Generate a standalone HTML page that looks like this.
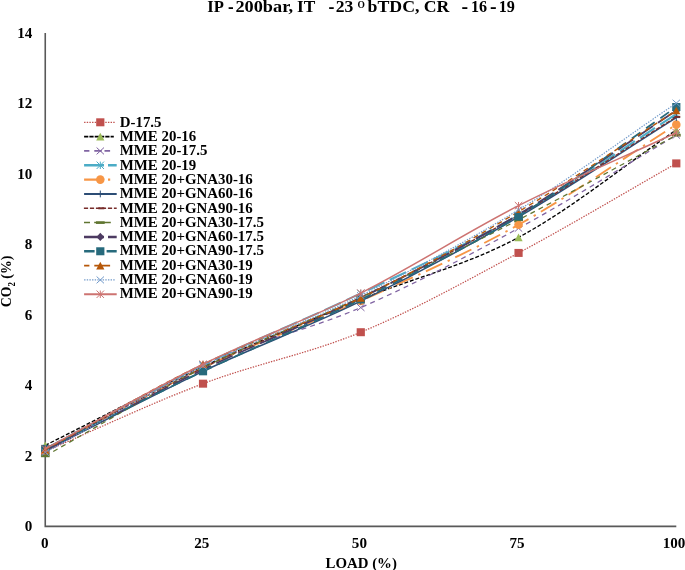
<!DOCTYPE html>
<html><head><meta charset="utf-8"><title>CO2 vs Load</title>
<style>
html,body{margin:0;padding:0;background:#fff;}
body{width:685px;height:570px;overflow:hidden;}
svg{display:block;}
text{font-family:"Liberation Serif",serif;font-weight:bold;fill:#000;}
.t{font-size:16.5px;}
.a{font-size:14.67px;}
.l{font-size:14.1px;}
</style></head><body>
<svg width="685" height="570" viewBox="0 0 685 570">
<rect width="685" height="570" fill="#fff"/>
<text class="t" x="207.2" y="12.4" textLength="16.6" lengthAdjust="spacingAndGlyphs">IP</text>
<text class="t" x="228.1" y="13.2" textLength="5.6" lengthAdjust="spacingAndGlyphs" style="font-size:22px">-</text>
<text class="t" x="235.4" y="12.4" textLength="57.8" lengthAdjust="spacingAndGlyphs">200bar,</text>
<text class="t" x="297.0" y="12.4" textLength="18.3" lengthAdjust="spacingAndGlyphs">IT</text>
<text class="t" x="328.4" y="13.2" textLength="5.9" lengthAdjust="spacingAndGlyphs" style="font-size:22px">-</text>
<text class="t" x="335.7" y="12.4" textLength="17.6" lengthAdjust="spacingAndGlyphs">23</text>
<text class="t" x="367.6" y="12.4" textLength="51.9" lengthAdjust="spacingAndGlyphs">bTDC,</text>
<text class="t" x="423.8" y="12.4" textLength="25.6" lengthAdjust="spacingAndGlyphs">CR</text>
<text class="t" x="461.5" y="13.2" textLength="6.6" lengthAdjust="spacingAndGlyphs" style="font-size:22px">-</text>
<text class="t" x="471.0" y="12.4" textLength="16.1" lengthAdjust="spacingAndGlyphs">16</text>
<text class="t" x="490.0" y="13.2" textLength="6.6" lengthAdjust="spacingAndGlyphs" style="font-size:22px">-</text>
<text class="t" x="498.7" y="12.4" textLength="16.2" lengthAdjust="spacingAndGlyphs">19</text>
<text class="t" x="357.6" y="8.0" textLength="7.4" lengthAdjust="spacingAndGlyphs" style="font-size:9.7px">O</text>
<path d="M45.25 33.0L45.25 526.4L676.3 526.4" fill="none" stroke="#595959" stroke-width="1.6"/>
<text class="a" transform="translate(32.4,531.3) scale(1.03,1)" text-anchor="end">0</text>
<text class="a" transform="translate(32.4,460.8) scale(1.03,1)" text-anchor="end">2</text>
<text class="a" transform="translate(32.4,390.3) scale(1.03,1)" text-anchor="end">4</text>
<text class="a" transform="translate(32.4,319.8) scale(1.03,1)" text-anchor="end">6</text>
<text class="a" transform="translate(32.4,249.4) scale(1.03,1)" text-anchor="end">8</text>
<text class="a" transform="translate(32.4,178.9) scale(1.03,1)" text-anchor="end">10</text>
<text class="a" transform="translate(32.4,108.4) scale(1.03,1)" text-anchor="end">12</text>
<text class="a" transform="translate(32.4,37.9) scale(1.03,1)" text-anchor="end">14</text>
<text class="a" transform="translate(44.75,548) scale(1.03,1)" text-anchor="middle">0</text>
<text class="a" transform="translate(201.7,548) scale(1.03,1)" text-anchor="middle">25</text>
<text class="a" transform="translate(359.4,548) scale(1.03,1)" text-anchor="middle">50</text>
<text class="a" transform="translate(517.1,548) scale(1.03,1)" text-anchor="middle">75</text>
<text class="a" transform="translate(674.0,548) scale(1.03,1)" text-anchor="middle">100</text>
<text class="a" x="325.6" y="567.5" textLength="71.3" lengthAdjust="spacingAndGlyphs">LOAD (%)</text>
<g transform="translate(11.0,307.3) rotate(-90)"><text class="a" x="0" y="0" textLength="51.6" lengthAdjust="spacingAndGlyphs">CO<tspan font-size="9.5" dy="3.6">2</tspan><tspan dy="-3.6"> (%)</tspan></text></g>
<path d="M45.25 451.33C97.84 428.78 150.43 403.52 203.01 383.67C255.60 363.81 308.19 354.00 360.77 332.21C413.36 310.42 465.95 281.05 518.54 252.92C571.12 224.78 623.71 193.24 676.30 163.40" fill="none" stroke="#C0504D" stroke-width="1.25" stroke-dasharray="1.4,1.3"/>
<rect x="41.15" y="447.33" width="8.20" height="8.00" fill="#C0504D"/>
<rect x="198.91" y="379.67" width="8.20" height="8.00" fill="#C0504D"/>
<rect x="356.67" y="328.21" width="8.20" height="8.00" fill="#C0504D"/>
<rect x="514.44" y="248.92" width="8.20" height="8.00" fill="#C0504D"/>
<rect x="672.20" y="159.40" width="8.20" height="8.00" fill="#C0504D"/>
<path d="M45.25 445.34C97.84 419.14 150.43 391.07 203.01 366.75C255.60 342.43 308.19 320.99 360.77 299.44C413.36 277.88 465.95 265.66 518.54 237.41C571.12 209.16 623.71 165.75 676.30 129.92" fill="none" stroke="#000000" stroke-width="1.35" stroke-dasharray="3.9,1.9"/>
<path d="M45.25 441.54L49.35 449.14L41.15 449.14Z" fill="#9BBB59"/>
<path d="M203.01 362.95L207.11 370.55L198.91 370.55Z" fill="#9BBB59"/>
<path d="M360.77 295.64L364.88 303.24L356.67 303.24Z" fill="#9BBB59"/>
<path d="M518.54 233.61L522.64 241.21L514.44 241.21Z" fill="#9BBB59"/>
<path d="M676.30 126.12L680.40 133.72L672.20 133.72Z" fill="#9BBB59"/>
<path d="M45.25 452.39C97.84 423.26 150.43 389.13 203.01 364.99C255.60 340.85 308.19 330.33 360.77 307.54C413.36 284.75 465.95 256.97 518.54 228.25C571.12 199.52 623.71 166.22 676.30 135.20" fill="none" stroke="#8064A2" stroke-width="1.25" stroke-dasharray="5,4.2"/>
<path d="M41.55 448.99L48.95 455.79M41.55 455.79L48.95 448.99" stroke="#8064A2" stroke-width="1" fill="none"/>
<path d="M199.31 361.59L206.71 368.39M199.31 368.39L206.71 361.59" stroke="#8064A2" stroke-width="1" fill="none"/>
<path d="M357.07 304.14L364.47 310.94M357.07 310.94L364.47 304.14" stroke="#8064A2" stroke-width="1" fill="none"/>
<path d="M514.84 224.85L522.24 231.65M514.84 231.65L522.24 224.85" stroke="#8064A2" stroke-width="1" fill="none"/>
<path d="M672.60 131.80L680.00 138.60M672.60 138.60L680.00 131.80" stroke="#8064A2" stroke-width="1" fill="none"/>
<path d="M45.25 448.87C97.84 420.91 150.43 390.89 203.01 364.99C255.60 339.08 308.19 318.41 360.77 293.44C413.36 268.48 465.95 245.10 518.54 215.21C571.12 185.31 623.71 147.77 676.30 114.06" fill="none" stroke="#4BACC6" stroke-width="2.0" stroke-dasharray="18,6"/>
<path d="M41.55 445.17L48.95 452.57M41.55 452.57L48.95 445.17M45.25 445.17L45.25 452.57" stroke="#4BACC6" stroke-width="1" fill="none"/>
<path d="M199.31 361.29L206.71 368.69M199.31 368.69L206.71 361.29M203.01 361.29L203.01 368.69" stroke="#4BACC6" stroke-width="1" fill="none"/>
<path d="M357.07 289.74L364.47 297.14M357.07 297.14L364.47 289.74M360.77 289.74L360.77 297.14" stroke="#4BACC6" stroke-width="1" fill="none"/>
<path d="M514.84 211.51L522.24 218.91M514.84 218.91L522.24 211.51M518.54 211.51L518.54 218.91" stroke="#4BACC6" stroke-width="1" fill="none"/>
<path d="M672.60 110.36L680.00 117.76M672.60 117.76L680.00 110.36M676.30 110.36L676.30 117.76" stroke="#4BACC6" stroke-width="1" fill="none"/>
<path d="M45.25 450.63C97.84 423.02 150.43 392.77 203.01 367.81C255.60 342.84 308.19 324.69 360.77 300.85C413.36 277.00 465.95 254.09 518.54 224.72C571.12 195.35 623.71 157.99 676.30 124.63" fill="none" stroke="#F79646" stroke-width="1.9" stroke-dasharray="18,6,2.4,6"/>
<circle cx="45.25" cy="450.63" r="4.30" fill="#F79646"/>
<circle cx="203.01" cy="367.81" r="4.30" fill="#F79646"/>
<circle cx="360.77" cy="300.85" r="4.30" fill="#F79646"/>
<circle cx="518.54" cy="224.72" r="4.30" fill="#F79646"/>
<circle cx="676.30" cy="124.63" r="4.30" fill="#F79646"/>
<path d="M45.25 450.63C97.84 424.20 150.43 396.24 203.01 371.33C255.60 346.43 308.19 326.93 360.77 301.20C413.36 275.47 465.95 247.57 518.54 216.97C571.12 186.37 623.71 150.71 676.30 117.58" fill="none" stroke="#2C4D75" stroke-width="1.5"/>
<path d="M41.55 450.63L48.95 450.63M45.25 447.23L45.25 454.03" stroke="#2C4D75" stroke-width="1" fill="none"/>
<path d="M199.31 371.33L206.71 371.33M203.01 367.93L203.01 374.73" stroke="#2C4D75" stroke-width="1" fill="none"/>
<path d="M357.07 301.20L364.47 301.20M360.77 297.80L360.77 304.60" stroke="#2C4D75" stroke-width="1" fill="none"/>
<path d="M514.84 216.97L522.24 216.97M518.54 213.57L518.54 220.37" stroke="#2C4D75" stroke-width="1" fill="none"/>
<path d="M672.60 117.58L680.00 117.58M676.30 114.18L676.30 120.98" stroke="#2C4D75" stroke-width="1" fill="none"/>
<path d="M45.25 448.87C97.84 421.85 150.43 393.06 203.01 367.81C255.60 342.55 308.19 322.76 360.77 297.32C413.36 271.89 465.95 245.28 518.54 215.21C571.12 185.13 623.71 149.65 676.30 116.88" fill="none" stroke="#772C2A" stroke-width="1.3" stroke-dasharray="4.2,1.8"/>
<rect x="43.25" y="447.87" width="6.0" height="2.0" fill="#772C2A"/>
<rect x="201.01" y="366.81" width="6.0" height="2.0" fill="#772C2A"/>
<rect x="358.77" y="296.32" width="6.0" height="2.0" fill="#772C2A"/>
<rect x="516.54" y="214.21" width="6.0" height="2.0" fill="#772C2A"/>
<rect x="674.30" y="115.88" width="6.0" height="2.0" fill="#772C2A"/>
<path d="M45.25 455.91C97.84 426.55 150.43 394.24 203.01 367.81C255.60 341.37 308.19 321.99 360.77 297.32C413.36 272.65 465.95 246.81 518.54 219.79C571.12 192.77 623.71 163.40 676.30 135.20" fill="none" stroke="#5F7530" stroke-width="1.25" stroke-dasharray="5,4.2"/>
<rect x="40.95" y="454.61" width="8.7" height="2.6" fill="#5F7530"/>
<rect x="198.71" y="366.51" width="8.7" height="2.6" fill="#5F7530"/>
<rect x="356.47" y="296.02" width="8.7" height="2.6" fill="#5F7530"/>
<rect x="514.24" y="218.49" width="8.7" height="2.6" fill="#5F7530"/>
<rect x="672.00" y="133.90" width="8.7" height="2.6" fill="#5F7530"/>
<path d="M45.25 450.63C97.84 423.61 150.43 395.00 203.01 369.57C255.60 344.14 308.19 323.87 360.77 298.03C413.36 272.18 465.95 245.75 518.54 214.50C571.12 183.25 623.71 145.19 676.30 110.53" fill="none" stroke="#4D3B62" stroke-width="1.8" stroke-dasharray="18,6"/>
<path d="M45.25 446.53L49.15 450.63L45.25 454.73L41.35 450.63Z" fill="#4D3B62"/>
<path d="M203.01 365.47L206.91 369.57L203.01 373.67L199.11 369.57Z" fill="#4D3B62"/>
<path d="M360.77 293.93L364.68 298.03L360.77 302.13L356.87 298.03Z" fill="#4D3B62"/>
<path d="M518.54 210.40L522.44 214.50L518.54 218.60L514.64 214.50Z" fill="#4D3B62"/>
<path d="M676.30 106.43L680.20 110.53L676.30 114.63L672.40 110.53Z" fill="#4D3B62"/>
<path d="M45.25 448.87C97.84 423.02 150.43 396.24 203.01 371.33C255.60 346.43 308.19 325.28 360.77 299.44C413.36 273.59 465.95 248.33 518.54 216.26C571.12 184.19 623.71 143.43 676.30 107.01" fill="none" stroke="#276A7C" stroke-width="1.8" stroke-dasharray="10.5,7"/>
<rect x="41.15" y="444.87" width="8.20" height="8.00" fill="#276A7C"/>
<rect x="198.91" y="367.33" width="8.20" height="8.00" fill="#276A7C"/>
<rect x="356.67" y="295.44" width="8.20" height="8.00" fill="#276A7C"/>
<rect x="514.44" y="212.26" width="8.20" height="8.00" fill="#276A7C"/>
<rect x="672.20" y="103.01" width="8.20" height="8.00" fill="#276A7C"/>
<path d="M45.25 449.57C97.84 421.14 150.43 389.54 203.01 364.28C255.60 339.03 308.19 323.46 360.77 298.03C413.36 272.59 465.95 242.93 518.54 211.68C571.12 180.43 623.71 144.25 676.30 110.53" fill="none" stroke="#B65708" stroke-width="1.4" stroke-dasharray="5,4.2"/>
<path d="M45.25 445.77L49.35 453.37L41.15 453.37Z" fill="#B65708"/>
<path d="M203.01 360.48L207.11 368.08L198.91 368.08Z" fill="#B65708"/>
<path d="M360.77 294.23L364.88 301.83L356.67 301.83Z" fill="#B65708"/>
<path d="M518.54 207.88L522.64 215.48L514.44 215.48Z" fill="#B65708"/>
<path d="M676.30 106.73L680.40 114.33L672.20 114.33Z" fill="#B65708"/>
<rect x="514.44" y="213.0" width="8.2" height="7.2" fill="#276A7C"/>
<path d="M45.25 452.39C97.84 423.61 150.43 392.18 203.01 366.04C255.60 339.91 308.19 321.58 360.77 295.56C413.36 269.54 465.95 241.99 518.54 209.92C571.12 177.85 623.71 138.73 676.30 103.13" fill="none" stroke="#729ACA" stroke-width="1.2" stroke-dasharray="1.4,1.3"/>
<path d="M41.55 448.99L48.95 455.79M41.55 455.79L48.95 448.99" stroke="#729ACA" stroke-width="1" fill="none"/>
<path d="M199.31 362.64L206.71 369.44M199.31 369.44L206.71 362.64" stroke="#729ACA" stroke-width="1" fill="none"/>
<path d="M357.07 292.16L364.47 298.96M357.07 298.96L364.47 292.16" stroke="#729ACA" stroke-width="1" fill="none"/>
<path d="M514.84 206.52L522.24 213.32M514.84 213.32L522.24 206.52" stroke="#729ACA" stroke-width="1" fill="none"/>
<path d="M672.60 99.73L680.00 106.53M672.60 106.53L680.00 99.73" stroke="#729ACA" stroke-width="1" fill="none"/>
<path d="M45.25 448.87C97.84 420.67 150.43 390.25 203.01 364.28C255.60 338.32 308.19 319.52 360.77 293.09C413.36 266.66 465.95 232.42 518.54 205.69C571.12 178.96 623.71 157.05 676.30 132.74" fill="none" stroke="#CD7371" stroke-width="1.5"/>
<path d="M41.55 445.17L48.95 452.57M41.55 452.57L48.95 445.17M45.25 445.17L45.25 452.57" stroke="#CD7371" stroke-width="1" fill="none"/>
<path d="M199.31 360.58L206.71 367.98M199.31 367.98L206.71 360.58M203.01 360.58L203.01 367.98" stroke="#CD7371" stroke-width="1" fill="none"/>
<path d="M357.07 289.39L364.47 296.79M357.07 296.79L364.47 289.39M360.77 289.39L360.77 296.79" stroke="#CD7371" stroke-width="1" fill="none"/>
<path d="M514.84 201.99L522.24 209.39M514.84 209.39L522.24 201.99M518.54 201.99L518.54 209.39" stroke="#CD7371" stroke-width="1" fill="none"/>
<path d="M672.60 129.04L680.00 136.44M672.60 136.44L680.00 129.04M676.30 129.04L676.30 136.44" stroke="#CD7371" stroke-width="1" fill="none"/>
<path d="M84.1 122.30L114.8 122.30" fill="none" stroke="#C0504D" stroke-width="1.15" stroke-dasharray="1.4,1.25"/>
<rect x="96.20" y="118.30" width="8.20" height="8.00" fill="#C0504D"/>
<text class="l" transform="translate(119.7,126.75) scale(1.058,1)">D-17.5</text>
<path d="M84.1 136.63L113.8 136.63" fill="none" stroke="#000000" stroke-width="1.9" stroke-dasharray="4.2,1.1"/>
<path d="M100.30 132.83L104.40 140.43L96.20 140.43Z" fill="#9BBB59"/>
<text class="l" transform="translate(119.7,141.05) scale(1.058,1)">MME 20-16</text>
<path d="M84.1 150.96L89.4 150.96M94.3 150.96L101.8 150.96M104.5 150.96L110.1 150.96" fill="none" stroke="#8064A2" stroke-width="1.7"/>
<path d="M96.60 147.56L104.00 154.36M96.60 154.36L104.00 147.56" stroke="#8064A2" stroke-width="1" fill="none"/>
<text class="l" transform="translate(119.7,155.35) scale(1.058,1)">MME 20-17.5</text>
<path d="M84.1 165.29L104 165.29M108 165.29L116.7 165.29" fill="none" stroke="#4BACC6" stroke-width="2.6"/>
<path d="M96.60 161.59L104.00 168.99M96.60 168.99L104.00 161.59M100.30 161.59L100.30 168.99" stroke="#4BACC6" stroke-width="1" fill="none"/>
<text class="l" transform="translate(119.7,169.65) scale(1.058,1)">MME 20-19</text>
<path d="M84.1 179.62L100 179.62M108 179.62L110.2 179.62" fill="none" stroke="#F79646" stroke-width="2.3"/>
<circle cx="100.30" cy="179.62" r="4.30" fill="#F79646"/>
<text class="l" transform="translate(119.7,183.95) scale(1.058,1)">MME 20+GNA30-16</text>
<path d="M84.1 193.95L116.7 193.95" fill="none" stroke="#2C4D75" stroke-width="2.0"/>
<path d="M96.60 193.95L104.00 193.95M100.30 190.55L100.30 197.35" stroke="#2C4D75" stroke-width="1" fill="none"/>
<text class="l" transform="translate(119.7,198.25) scale(1.058,1)">MME 20+GNA60-16</text>
<path d="M83.9 208.28L116.7 208.28" fill="none" stroke="#772C2A" stroke-width="1.6" stroke-dasharray="4.2,1.8"/>
<rect x="98.30" y="207.28" width="6.0" height="2.0" fill="#772C2A"/>
<text class="l" transform="translate(119.7,212.55) scale(1.058,1)">MME 20+GNA90-16</text>
<path d="M84 222.61L90 222.61M94.2 222.61L110.8 222.61" fill="none" stroke="#5F7530" stroke-width="1.5"/>
<rect x="96.00" y="221.31" width="8.7" height="2.6" fill="#5F7530"/>
<text class="l" transform="translate(119.7,226.85) scale(1.058,1)">MME 20+GNA30-17.5</text>
<path d="M84 236.94L104 236.94M108 236.94L116.7 236.94" fill="none" stroke="#4D3B62" stroke-width="2.4"/>
<path d="M100.30 232.84L104.20 236.94L100.30 241.04L96.40 236.94Z" fill="#4D3B62"/>
<text class="l" transform="translate(119.7,241.15) scale(1.058,1)">MME 20+GNA60-17.5</text>
<path d="M84.1 251.27L94.6 251.27M106.6 251.27L116.7 251.27" fill="none" stroke="#276A7C" stroke-width="2.3"/>
<rect x="96.20" y="247.27" width="8.20" height="8.00" fill="#276A7C"/>
<text class="l" transform="translate(119.7,255.45) scale(1.058,1)">MME 20+GNA90-17.5</text>
<path d="M84.1 265.60L89.4 265.60M94.3 265.60L110.1 265.60" fill="none" stroke="#B65708" stroke-width="1.8"/>
<path d="M100.30 261.80L104.40 269.40L96.20 269.40Z" fill="#B65708"/>
<text class="l" transform="translate(119.7,269.75) scale(1.058,1)">MME 20+GNA30-19</text>
<path d="M84.1 279.93L114.8 279.93" fill="none" stroke="#729ACA" stroke-width="1.15" stroke-dasharray="1.4,1.25"/>
<path d="M96.60 276.53L104.00 283.33M96.60 283.33L104.00 276.53" stroke="#729ACA" stroke-width="1" fill="none"/>
<text class="l" transform="translate(119.7,284.05) scale(1.058,1)">MME 20+GNA60-19</text>
<path d="M84.1 294.26L116.7 294.26" fill="none" stroke="#CD7371" stroke-width="2.0"/>
<path d="M96.60 290.56L104.00 297.96M96.60 297.96L104.00 290.56M100.30 290.56L100.30 297.96" stroke="#CD7371" stroke-width="1" fill="none"/>
<text class="l" transform="translate(119.7,298.35) scale(1.058,1)">MME 20+GNA90-19</text>
</svg>
</body></html>
